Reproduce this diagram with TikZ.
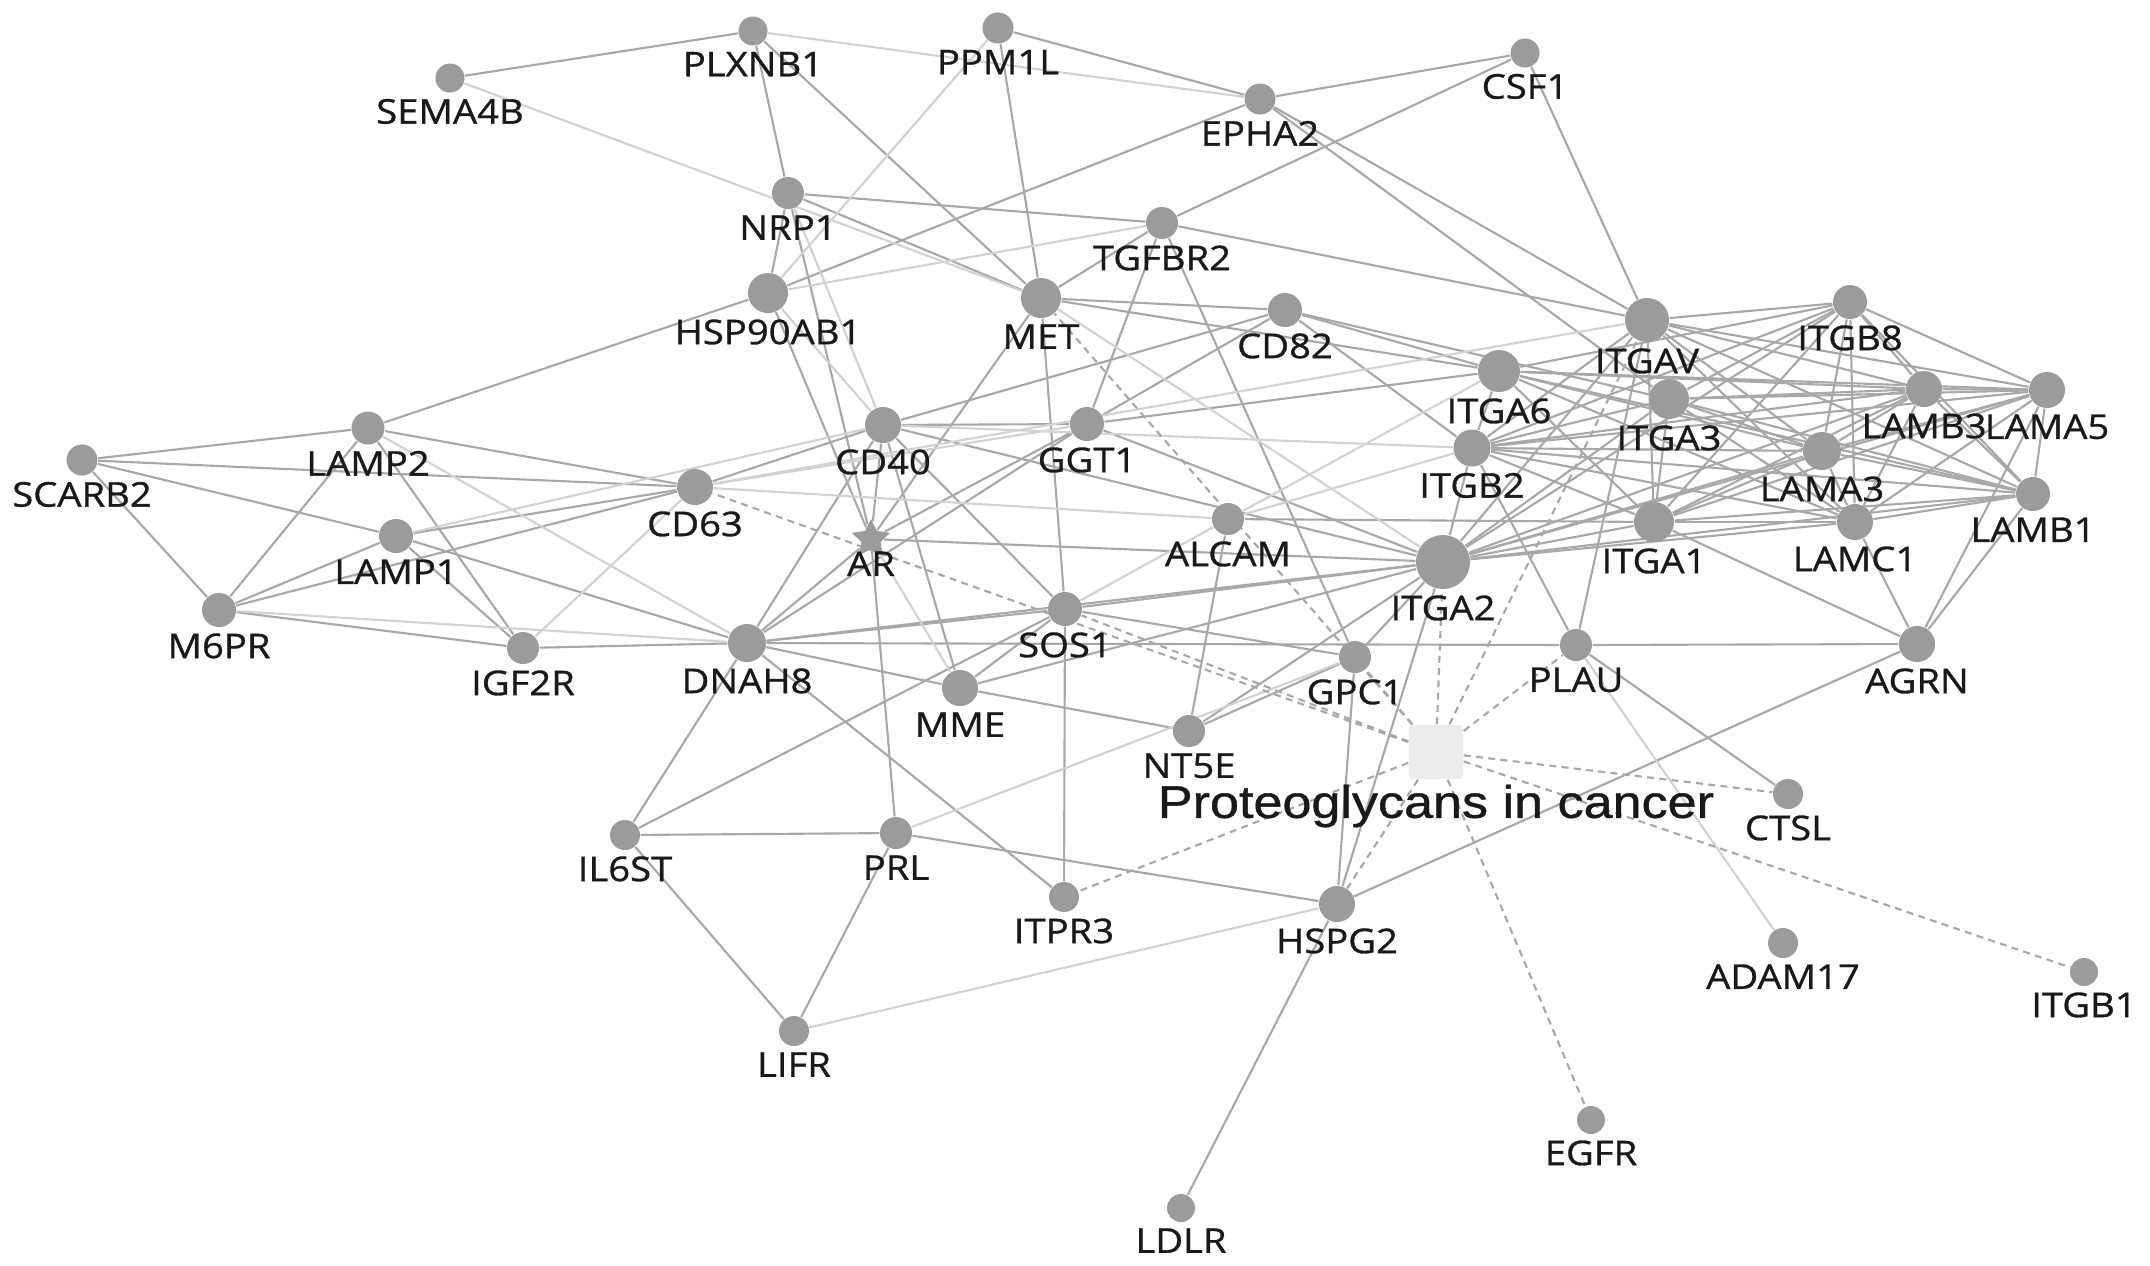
\documentclass[tikz,border=0pt]{standalone}
\usepackage{fontspec}
\newfontfamily\labfont[FakeStretch=1.12,FakeBold=0.9]{Open Sans}
\newfontfamily\ptfont[FakeStretch=1.14,FakeBold=0.9]{Liberation Sans}
\usetikzlibrary{shapes.geometric}
\pgfdeclarelayer{bg}
\pgfsetlayers{bg,main}
\definecolor{nodeg}{RGB}{155,155,155}
\definecolor{edgec}{RGB}{168,168,168}
\definecolor{edgelt}{RGB}{210,210,210}
\definecolor{sqc}{RGB}{236,236,236}
\definecolor{labc}{RGB}{25,25,25}
\tikzset{
  gene/.style={circle, fill=nodeg, draw=none, inner sep=0pt, minimum size=#1},
  gene/.default=0.30cm,
  lab/.style={font=\labfont\fontsize{9.7}{10}\selectfont, text=labc, inner sep=0pt},
  edge/.style={draw=edgec, line width=0.6pt},
  edgelight/.style={draw=edgelt, line width=0.6pt},
  edgedash/.style={draw=edgec, line width=0.6pt, dash pattern=on 2pt off 1.5pt},
}
\begin{document}
\begin{tikzpicture}[x=0.01cm, y=-0.01cm, every label/.style={lab}, label distance=0.05cm]
\useasboundingbox (0,0) rectangle (2150,1265);
% genes
\node[gene=0.29cm, label=below:SEMA4B] (SEMA4B) at (450,78) {};
\node[gene=0.29cm, label=below:PLXNB1] (PLXNB1) at (753,31) {};
\node[gene=0.31cm, label=below:PPM1L] (PPM1L) at (998,28) {};
\node[gene=0.31cm, label=below:EPHA2] (EPHA2) at (1260,99) {};
\node[gene=0.29cm, label=below:CSF1] (CSF1) at (1525,53) {};
\node[gene=0.32cm, label=below:NRP1] (NRP1) at (788,193) {};
\node[gene=0.32cm, label=below:TGFBR2] (TGFBR2) at (1162,223) {};
\node[gene=0.40cm, label=below:HSP90AB1] (HSP90AB1) at (768,293) {};
\node[gene=0.40cm, label=below:MET] (MET) at (1041,298) {};
\node[gene=0.34cm, label=below:CD82] (CD82) at (1285,310) {};
\node[gene=0.44cm, label=below:ITGAV] (ITGAV) at (1647,320) {};
\node[gene=0.34cm, label=below:ITGB8] (ITGB8) at (1850,302) {};
\node[gene=0.42cm, label=below:ITGA6] (ITGA6) at (1499,371) {};
\node[gene=0.40cm, label=below:ITGA3] (ITGA3) at (1669,399) {};
\node[gene=0.36cm, label=below:LAMB3] (LAMB3) at (1924,389) {};
\node[gene=0.36cm, label=below:LAMA5] (LAMA5) at (2047,390) {};
\node[gene=0.38cm, label=below:LAMA3] (LAMA3) at (1822,451) {};
\node[gene=0.34cm, label=below:LAMB1] (LAMB1) at (2033,494) {};
\node[gene=0.36cm, label=below:LAMC1] (LAMC1) at (1855,522) {};
\node[gene=0.40cm, label=below:ITGA1] (ITGA1) at (1654,522) {};
\node[gene=0.37cm, label=below:ITGB2] (ITGB2) at (1472,448) {};
\node[gene=0.54cm, label=below:ITGA2] (ITGA2) at (1443,562) {};
\node[gene=0.32cm, label=below:ALCAM] (ALCAM) at (1228,519) {};
\node[gene=0.34cm, label=below:GGT1] (GGT1) at (1087,424) {};
\node[gene=0.36cm, label=below:CD40] (CD40) at (883,425) {};
\node[gene=0.33cm, label=below:LAMP2] (LAMP2) at (368,428) {};
\node[gene=0.31cm, label=below:SCARB2] (SCARB2) at (82,460) {};
\node[gene=0.36cm, label=below:CD63] (CD63) at (695,487) {};
\node[gene=0.34cm, label=below:LAMP1] (LAMP1) at (396,536) {};
\node[star, star points=5, star point ratio=2.0, fill=nodeg, draw=none, inner sep=0pt, minimum size=0.40cm, label={[label distance=0.01cm]below:AR}] (AR) at (871,539) {};
\node[gene=0.34cm, label=below:M6PR] (M6PR) at (219,610) {};
\node[gene=0.32cm, label=below:IGF2R] (IGF2R) at (523,648) {};
\node[gene=0.38cm, label=below:DNAH8] (DNAH8) at (747,643) {};
\node[gene=0.34cm, label=below:SOS1] (SOS1) at (1065,609) {};
\node[gene=0.36cm, label=below:MME] (MME) at (960,688) {};
\node[gene=0.32cm, label=below:NT5E] (NT5E) at (1189,731) {};
\node[gene=0.32cm, label=below:GPC1] (GPC1) at (1355,657) {};
\node[gene=0.32cm, label=below:PLAU] (PLAU) at (1576,645) {};
\node[gene=0.36cm, label=below:AGRN] (AGRN) at (1917,644) {};
\node[gene=0.30cm, label=below:CTSL] (CTSL) at (1788,794) {};
\node[gene=0.30cm, label=below:IL6ST] (IL6ST) at (625,835) {};
\node[gene=0.32cm, label=below:PRL] (PRL) at (896,833) {};
\node[gene=0.30cm, label=below:ITPR3] (ITPR3) at (1064,897) {};
\node[gene=0.36cm, label=below:HSPG2] (HSPG2) at (1337,904) {};
\node[gene=0.30cm, label=below:ADAM17] (ADAM17) at (1783,943) {};
\node[gene=0.28cm, label=below:ITGB1] (ITGB1) at (2084,972) {};
\node[gene=0.30cm, label=below:LIFR] (LIFR) at (794,1031) {};
\node[gene=0.28cm, label=below:EGFR] (EGFR) at (1591,1120) {};
\node[gene=0.28cm, label=below:LDLR] (LDLR) at (1181,1208) {};
% pathway
\node[fill=sqc, draw=none, inner sep=0pt, minimum size=0.54cm, rounded corners=1pt] (PG) at (1436,752) {};
\node[font=\ptfont\fontsize{13}{14}\selectfont, text=labc, anchor=north, inner sep=0pt] (PGtext) at (1436,784) {Proteoglycans in cancer};
\begin{pgfonlayer}{bg}
\foreach \a/\b in {SEMA4B/PLXNB1, PLXNB1/NRP1, PLXNB1/MET, PPM1L/EPHA2, PPM1L/MET, EPHA2/CSF1, EPHA2/HSP90AB1, EPHA2/ITGAV, EPHA2/ITGA3, CSF1/ITGAV, CSF1/TGFBR2, NRP1/TGFBR2, NRP1/MET, NRP1/HSP90AB1, NRP1/AR, TGFBR2/ITGAV, TGFBR2/MET, TGFBR2/GGT1, TGFBR2/GPC1, HSP90AB1/LAMP2, HSP90AB1/AR, MET/CD82, MET/ITGA6, MET/SOS1, MET/AR, CD82/GGT1, CD82/CD40, CD82/ITGA6, CD82/ITGA3, CD82/ITGB2, CD40/GGT1, CD40/CD63, CD40/MME, CD40/SOS1, CD40/DNAH8, CD40/ITGA2, GGT1/ITGA6, GGT1/ITGA2, GGT1/DNAH8, GGT1/AR, AR/CD40, AR/DNAH8, AR/ITGA2, AR/PRL, SCARB2/LAMP2, SCARB2/CD63, SCARB2/LAMP1, SCARB2/M6PR, LAMP2/M6PR, LAMP2/CD63, LAMP2/IGF2R, LAMP1/M6PR, LAMP1/CD63, LAMP1/IGF2R, LAMP1/DNAH8, M6PR/CD63, M6PR/IGF2R, IGF2R/DNAH8, DNAH8/SOS1, DNAH8/ITGA2, DNAH8/MME, DNAH8/ITPR3, DNAH8/IL6ST, DNAH8/PLAU, SOS1/ITGA2, SOS1/GPC1, SOS1/ITPR3, SOS1/MME, SOS1/IL6ST, MME/NT5E, MME/ITGA2, NT5E/ALCAM, NT5E/GPC1, NT5E/ITGA2, ALCAM/ITGA1, GPC1/ITGA2, GPC1/HSPG2, PRL/IL6ST, PRL/LIFR, PRL/HSPG2, IL6ST/LIFR, HSPG2/LDLR, HSPG2/AGRN, HSPG2/ITGA2, PLAU/CTSL, PLAU/ITGB2, PLAU/ITGAV, PLAU/AGRN, AGRN/ITGA1, AGRN/LAMC1, AGRN/LAMB1, AGRN/LAMA5,
 ITGAV/ITGB8, ITGAV/ITGA2, ITGAV/LAMB3, ITGAV/LAMA5, ITGAV/LAMA3, ITGAV/LAMB1, ITGAV/LAMC1, ITGAV/ITGA1, ITGAV/ITGB2,
 ITGB8/ITGA6, ITGB8/ITGA3, ITGB8/ITGB2, ITGB8/ITGA1, ITGB8/ITGA2, ITGB8/LAMB3, ITGB8/LAMA5, ITGB8/LAMA3, ITGB8/LAMB1, ITGB8/LAMC1,
 ITGA6/LAMB3, ITGA6/LAMA5, ITGA6/LAMA3, ITGA6/LAMB1, ITGA6/LAMC1, ITGA6/ITGB2, ITGA6/ITGA1,
 ITGA3/LAMB3, ITGA3/LAMA5, ITGA3/LAMA3, ITGA3/LAMB1, ITGA3/LAMC1, ITGA3/ITGB2, ITGA3/ITGA1, ITGA3/ITGA2,
 ITGB2/LAMB3, ITGB2/LAMA5, ITGB2/LAMA3, ITGB2/LAMB1, ITGB2/LAMC1, ITGB2/ITGA2, ITGB2/ITGA1,
 ITGA1/LAMB3, ITGA1/LAMA5, ITGA1/LAMA3, ITGA1/LAMB1, ITGA1/LAMC1, ITGA1/ITGA2,
 ITGA2/LAMB3, ITGA2/LAMA5, ITGA2/LAMA3, ITGA2/LAMB1, ITGA2/LAMC1,
 LAMB3/LAMA5, LAMB3/LAMA3, LAMB3/LAMB1, LAMB3/LAMC1, LAMA5/LAMA3, LAMA5/LAMB1, LAMA5/LAMC1, LAMA3/LAMB1, LAMA3/LAMC1, LAMB1/LAMC1}
  \draw[edge] (\a) -- (\b);
\foreach \a/\b in {SEMA4B/MET, PLXNB1/EPHA2, PPM1L/HSP90AB1, HSP90AB1/TGFBR2, HSP90AB1/CD40, NRP1/CD40, LAMP2/DNAH8, LAMP1/CD40, M6PR/DNAH8, IGF2R/CD63, AR/MME, SOS1/ALCAM, PRL/GPC1, LIFR/HSPG2, PLAU/ADAM17, ALCAM/ITGB2, ALCAM/ITGA6, CD40/ITGB2, CD63/ITGAV, CD63/ALCAM, CD63/GGT1, MET/ITGA2}
  \draw[edgelight] (\a) -- (\b);
\foreach \a in {MET, CD63, SOS1, ITPR3, HSPG2, GPC1, ITGA2, ITGAV, PLAU, CTSL, ITGB1, EGFR}
  \draw[edgedash] (PG) -- (\a);
\end{pgfonlayer}
\end{tikzpicture}
\end{document}
